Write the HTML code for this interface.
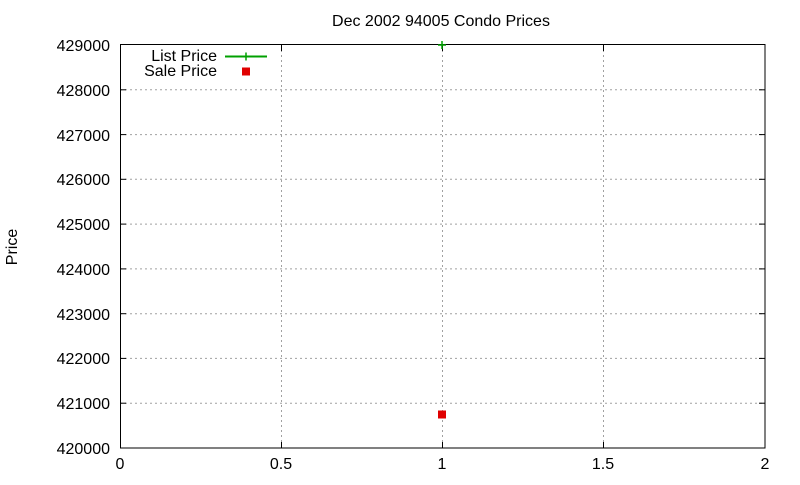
<!DOCTYPE html>
<html><head><meta charset="utf-8"><style>
html,body{margin:0;padding:0;background:#fff;}
svg text{font-family:"Liberation Sans",sans-serif;font-size:16px;fill:#000;}
</style></head><body>
<svg width="800" height="480" viewBox="0 0 800 480" xmlns="http://www.w3.org/2000/svg">
<rect width="800" height="480" fill="#fff"/>
<g stroke="#a0a0a0" stroke-width="1" stroke-dasharray="2,3">
<line x1="120" y1="89.8" x2="765" y2="89.8"/>
<line x1="120" y1="134.6" x2="765" y2="134.6"/>
<line x1="120" y1="179.3" x2="765" y2="179.3"/>
<line x1="120" y1="224.1" x2="765" y2="224.1"/>
<line x1="120" y1="268.9" x2="765" y2="268.9"/>
<line x1="120" y1="313.7" x2="765" y2="313.7"/>
<line x1="120" y1="358.4" x2="765" y2="358.4"/>
<line x1="120" y1="403.2" x2="765" y2="403.2"/>
<line x1="281.5" y1="45" x2="281.5" y2="448"/>
<line x1="442.5" y1="45" x2="442.5" y2="448"/>
<line x1="603.5" y1="45" x2="603.5" y2="448"/>
</g>
<rect x="120.5" y="44.5" width="644.5" height="403.5" fill="none" stroke="#000"/>
<g stroke="#000">
<line x1="120" y1="89.8" x2="126" y2="89.8"/><line x1="765" y1="89.8" x2="759" y2="89.8"/>
<line x1="120" y1="134.6" x2="126" y2="134.6"/><line x1="765" y1="134.6" x2="759" y2="134.6"/>
<line x1="120" y1="179.3" x2="126" y2="179.3"/><line x1="765" y1="179.3" x2="759" y2="179.3"/>
<line x1="120" y1="224.1" x2="126" y2="224.1"/><line x1="765" y1="224.1" x2="759" y2="224.1"/>
<line x1="120" y1="268.9" x2="126" y2="268.9"/><line x1="765" y1="268.9" x2="759" y2="268.9"/>
<line x1="120" y1="313.7" x2="126" y2="313.7"/><line x1="765" y1="313.7" x2="759" y2="313.7"/>
<line x1="120" y1="358.4" x2="126" y2="358.4"/><line x1="765" y1="358.4" x2="759" y2="358.4"/>
<line x1="120" y1="403.2" x2="126" y2="403.2"/><line x1="765" y1="403.2" x2="759" y2="403.2"/>
<line x1="281.5" y1="448" x2="281.5" y2="442"/><line x1="281.5" y1="45" x2="281.5" y2="51"/>
<line x1="442.5" y1="448" x2="442.5" y2="442"/><line x1="442.5" y1="45" x2="442.5" y2="51"/>
<line x1="603.5" y1="448" x2="603.5" y2="442"/><line x1="603.5" y1="45" x2="603.5" y2="51"/>
</g>
<g text-anchor="end">
<text x="110" y="51">429000</text>
<text x="110" y="96">428000</text>
<text x="110" y="141">427000</text>
<text x="110" y="185">426000</text>
<text x="110" y="230">425000</text>
<text x="110" y="275">424000</text>
<text x="110" y="320">423000</text>
<text x="110" y="364">422000</text>
<text x="110" y="409">421000</text>
<text x="110" y="454">420000</text>
</g>
<g text-anchor="middle">
<text x="120" y="469">0</text>
<text x="281" y="469">0.5</text>
<text x="442" y="469">1</text>
<text x="603" y="469">1.5</text>
<text x="765" y="469">2</text>
<text x="441" y="26">Dec 2002 94005 Condo Prices</text>
<text x="0" y="0" transform="translate(17,247) rotate(-90)">Price</text>
</g>
<text x="217" y="61" text-anchor="end">List Price</text>
<text x="217" y="76" text-anchor="end">Sale Price</text>
<line x1="225" y1="56.5" x2="267" y2="56.5" stroke="#00a000" stroke-width="2"/>
<g stroke="#00a000" stroke-width="1.5">
<line x1="242" y1="56.5" x2="250" y2="56.5"/><line x1="246" y1="52.5" x2="246" y2="60.5"/>
<line x1="438" y1="45" x2="446" y2="45"/><line x1="442" y1="41" x2="442" y2="49"/>
</g>
<rect x="242" y="67.5" width="8" height="8" fill="#e00000"/>
<rect x="438" y="410.5" width="8" height="8" fill="#e00000"/>
</svg>
</body></html>
